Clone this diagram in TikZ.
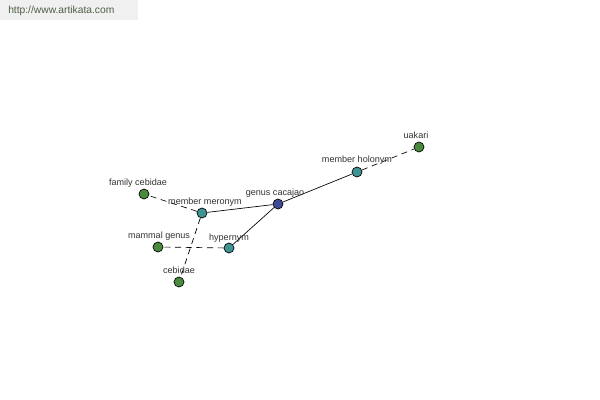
\documentclass[tikz,border=0pt]{standalone}
\usepackage{fontspec}
\setmainfont{Liberation Sans}
\definecolor{gnode}{HTML}{4A8A3C}
\definecolor{tnode}{HTML}{3F9393}
\definecolor{bnode}{HTML}{3F4A92}
\definecolor{lbl}{HTML}{333333}
\definecolor{wmtext}{HTML}{4F5F45}
\begin{document}
\begin{tikzpicture}[x=0.75pt,y=-0.75pt,
  vtx/.style={circle,draw=black,line width=0.5pt,minimum size=7.5pt,inner sep=0pt},
  lab/.style={font=\fontsize{6.8}{7.5}\selectfont,text=lbl,inner sep=0pt},
  solidedge/.style={line width=0.5pt},
  dashedge/.style={line width=0.5pt,dash pattern=on 4.5pt off 3.5pt}]
\useasboundingbox[fill=white] (0,0) rectangle (600,400);
\fill[gray!12] (0,0) rectangle (138,20);
\node[font=\fontsize{7.7}{8}\selectfont,text=wmtext,anchor=west,inner sep=0pt] (wm) at (8,11) {http://www.artikata.com};

\node[vtx,fill=bnode] (gc) at (278,204) {};
\node[vtx,fill=tnode] (mh) at (357,172) {};
\node[vtx,fill=gnode] (ua) at (419,147) {};
\node[vtx,fill=tnode] (mm) at (202,213) {};
\node[vtx,fill=gnode] (fc) at (144,194) {};
\node[vtx,fill=tnode] (hy) at (229,248) {};
\node[vtx,fill=gnode] (mg) at (158,247) {};
\node[vtx,fill=gnode] (ce) at (179,282) {};

\draw[solidedge] (gc) -- (mh);
\draw[dashedge] (mh) -- (ua);
\draw[solidedge] (gc) -- (mm);
\draw[dashedge] (mm) -- (fc);
\draw[dashedge] (mm) -- (ce);
\draw[solidedge] (gc) -- (hy);
\draw[dashedge] (hy) -- (mg);

\node[lab] (lgc) at (275,193) {genus cacajao};
\node[lab] (lmh) at (357,160) {member holonym};
\node[lab] (lua) at (416,135) {uakari};
\node[lab] (lmm) at (205,202) {member meronym};
\node[lab] (lfc) at (138,183) {family cebidae};
\node[lab] (lhy) at (229,238) {hypernym};
\node[lab] (lmg) at (159,236) {mammal genus};
\node[lab] (lce) at (179,270) {cebidae};
\end{tikzpicture}
\end{document}
